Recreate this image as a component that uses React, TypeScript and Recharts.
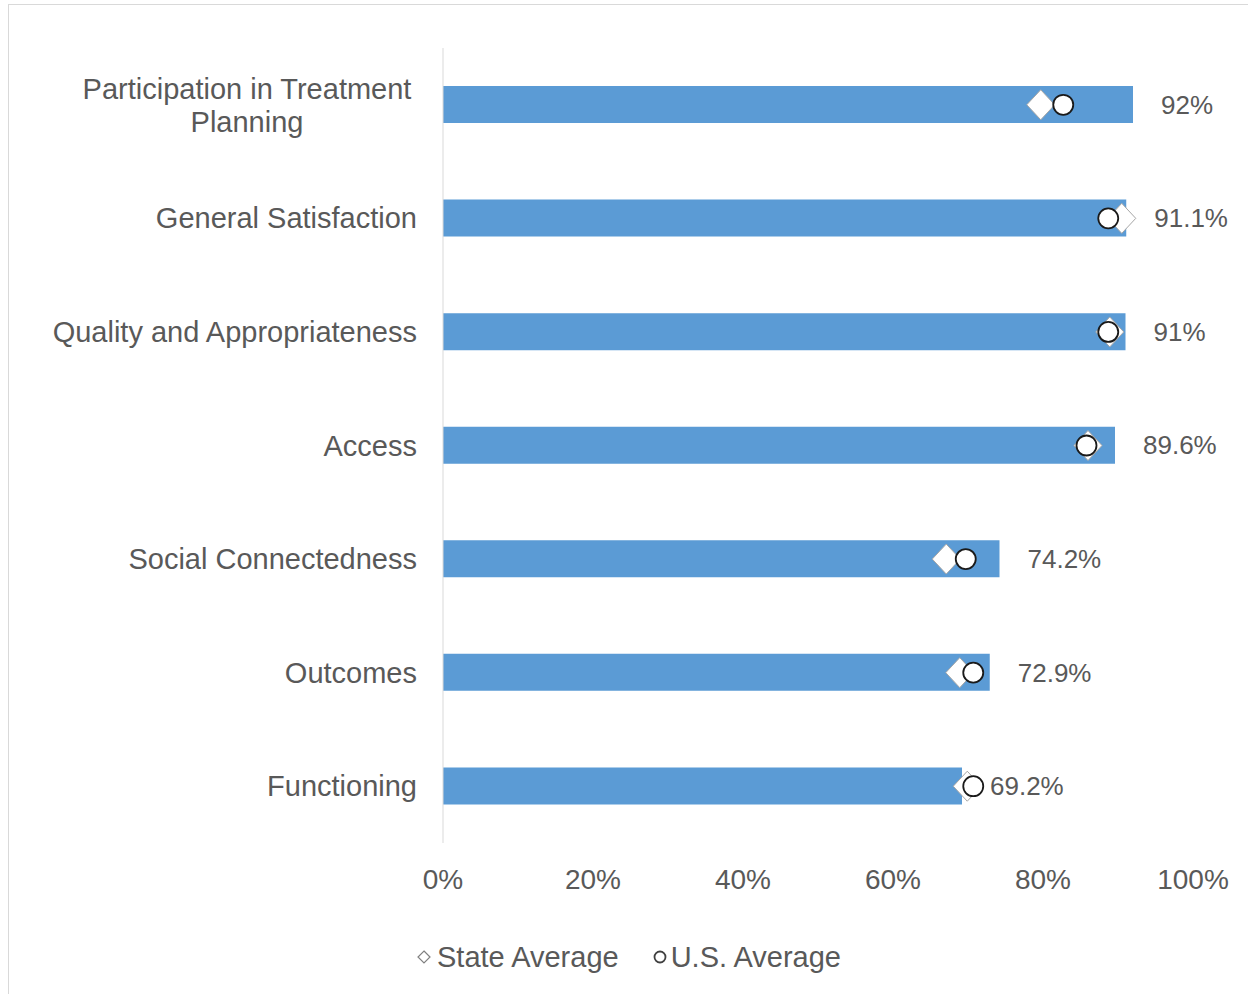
import React from "react";
import {
  ComposedChart, Bar, Line, XAxis, YAxis, Legend, LabelList,
} from "recharts";

const categories = [
  "Participation in Treatment Planning",
  "General Satisfaction",
  "Quality and Appropriateness",
  "Access",
  "Social Connectedness",
  "Outcomes",
  "Functioning",
];
const provider = [92, 91.1, 91, 89.6, 74.2, 72.9, 69.2];
const stateAverage = [79.7, 90.5, 88.9, 86.0, 67.1, 68.9, 69.9];
const usAverage = [82.7, 88.7, 88.7, 85.8, 69.7, 70.7, 70.7];
const xTicks = [0, 20, 40, 60, 80, 100];

const data = categories.map((name, i) => ({
  name,
  value: provider[i],
  state: stateAverage[i],
  us: usAverage[i],
}));

const FONT = "'Liberation Sans', Arial, sans-serif";
const TEXT = "#595959";

// category label, long ones wrap onto two centred lines
function CategoryTick(props: any) {
  const { x, y, payload } = props;
  const label: string = payload.value;
  if (label.length > 30) {
    const words = label.split(" ");
    const first = words.slice(0, 3).join(" ");
    const second = words.slice(3).join(" ");
    return (
      <text x={x - 170} y={y} textAnchor="middle" fontSize={29} fill={TEXT} fontFamily={FONT}>
        <tspan x={x - 170} dy={-16 + 10}>{first}</tspan>
        <tspan x={x - 170} dy={33}>{second}</tspan>
      </text>
    );
  }
  return (
    <text x={x} y={y} dy={10} textAnchor="end" fontSize={29} fill={TEXT} fontFamily={FONT}>
      {label}
    </text>
  );
}

function Diamond(props: any) {
  const { cx, cy } = props;
  if (cx == null || cy == null) return null;
  const w = 14, h = 15;
  return (
    <path
      d={`M${cx},${cy - h} L${cx + w},${cy} L${cx},${cy + h} L${cx - w},${cy} Z`}
      fill="#fff" stroke="#a6a6a6" strokeWidth={1}
    />
  );
}

function Circle(props: any) {
  const { cx, cy } = props;
  if (cx == null || cy == null) return null;
  return <circle cx={cx} cy={cy} r={10} fill="#fff" stroke="#1a1a1a" strokeWidth={1.8} />;
}

function LegendContent() {
  return (
    <div style={{
      display: "flex", justifyContent: "center", alignItems: "center", height: 60,
      fontFamily: FONT, fontSize: 29, color: TEXT, paddingLeft: 10,
    }}>
      <svg width={14} height={14} style={{ marginRight: 6 }}>
        <path d="M7,1 L13,7 L7,13 L1,7 Z" fill="#fff" stroke="#808080" strokeWidth={1.2} />
      </svg>
      <span style={{ marginRight: 34 }}>State Average</span>
      <svg width={14} height={14} style={{ marginRight: 4 }}>
        <circle cx={7} cy={7} r={5.5} fill="#fff" stroke="#404040" strokeWidth={1.8} />
      </svg>
      <span>U.S. Average</span>
    </div>
  );
}

export default function App() {
  return (
    <div style={{ position: "absolute", left: 0, top: 0, width: 1248, height: 994, overflow: "hidden", background: "#fff" }}>
      <div style={{
        position: "absolute", left: 8, top: 4, width: 1240, height: 990,
        borderTop: "1px solid #d9d9d9", borderLeft: "1px solid #d9d9d9", boxSizing: "border-box",
      }} />
      <div style={{ position: "absolute", left: 0, top: 0 }}>
        <ComposedChart
          layout="vertical"
          width={1248}
          height={994}
          data={data}
          margin={{ top: 48, right: 55, left: 0, bottom: 7 }}
          barCategoryGap={0}
        >
          <XAxis
            type="number"
            domain={[0, 100]}
            ticks={xTicks}
            tickFormatter={(v) => `${v}%`}
            axisLine={false}
            tickLine={false}
            tickSize={6}
            tickMargin={20}
            height={84}
            interval={0}
            tick={{ fontSize: 28, fill: TEXT, fontFamily: FONT }}
          />
          <YAxis
            type="category"
            dataKey="name"
            width={443}
            axisLine={{ stroke: "#d9d9d9" }}
            tickLine={false}
            tickSize={0}
            tickMargin={26}
            interval={0}
            tick={<CategoryTick />}
          />
          <Legend
            verticalAlign="bottom"
            content={<LegendContent />}
            wrapperStyle={{ left: 0, width: 1248, height: 60 }}
          />
          <Bar dataKey="value" name="Provider" fill="#5b9bd5" barSize={37} isAnimationActive={false} legendType="none">
            <LabelList
              dataKey="value"
              position="right"
              offset={28}
              formatter={(v: any) => `${v}%`}
              style={{ fontSize: 26, fill: TEXT, fontFamily: FONT }}
            />
          </Bar>
          <Line dataKey="state" name="State Average" stroke="none" dot={<Diamond />} activeDot={false} isAnimationActive={false} />
          <Line dataKey="us" name="U.S. Average" stroke="none" dot={<Circle />} activeDot={false} isAnimationActive={false} />
        </ComposedChart>
      </div>
    </div>
  );
}
